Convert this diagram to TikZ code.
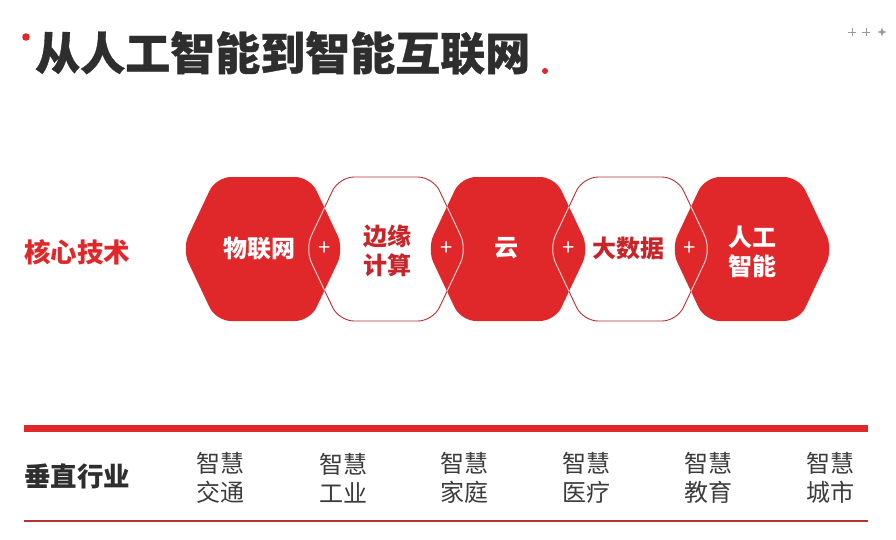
\documentclass[tikz,border=0pt]{standalone}
\usepackage{fontspec}
\setmainfont{Noto Sans CJK SC}
\newfontfamily\heavyfont[FakeBold=0.8]{Noto Sans CJK SC}
\definecolor{hexred}{HTML}{E0282B}
\definecolor{edgered}{HTML}{B43234}
\definecolor{txtred}{HTML}{C8252B}
\definecolor{titlegray}{HTML}{2E2E2E}
\definecolor{indgray}{HTML}{3C3C3C}
\definecolor{lightedge}{HTML}{F6D0D0}
\definecolor{decogray}{HTML}{9A9A9A}
\newcommand{\hexp}[1]{(#1,177) -- (#1+47,177) -- (#1+81,249) -- (#1+47,321) -- (#1-47,321) -- (#1-81,249) -- (#1-47,177) -- cycle}
\tikzset{
  hexshape/.style={rounded corners=15pt},
  hexwhite/.style={font=\fontsize{24}{29}\selectfont\bfseries, text=white, align=center, inner sep=0pt},
  hexdark/.style={font=\fontsize{24}{29}\selectfont\bfseries, text=txtred, align=center, inner sep=0pt},
  plussign/.style={font=\fontsize{22}{22}\selectfont, text=white, inner sep=0pt},
  industry/.style={font=\fontsize{24}{29}\selectfont, text=indgray, align=center, inner sep=0pt},
  rowlabel/.style={font=\fontsize{26.5}{26.5}\selectfont\bfseries, anchor=west, inner sep=0pt}
}
\begin{document}
\begin{tikzpicture}[x=1pt,y=-1pt]
\useasboundingbox[fill=white] (0,0) rectangle (896,539);

% title
\fill[hexred] (26,37) circle (3.8);
\node[anchor=west, inner sep=0pt, font=\fontsize{45}{45}\selectfont\heavyfont\bfseries, text=titlegray] (title) at (35,53) {从人工智能到智能互联网};
\fill[hexred] (545,71) circle (3);

% deco
\draw[decogray, line width=0.8pt] (848,32) -- (856,32) (852,28) -- (852,36)
  (862,32) -- (870,32) (866,28) -- (866,36);
\fill[decogray] (882,27.5) -- (883.2,30.8) -- (886.5,32) -- (883.2,33.2) -- (882,36.5) -- (880.8,33.2) -- (877.5,32) -- (880.8,30.8) -- cycle;

% hexagons
\fill[hexred, hexshape] \hexp{263};
\fill[hexred, hexshape] \hexp{508};
\fill[hexred, hexshape] \hexp{752};
\fill[white, hexshape] \hexp{386};
\fill[white, hexshape] \hexp{630};
% overlaps
\begin{scope}
  \clip[hexshape] \hexp{386};
  \fill[hexred, hexshape] \hexp{263};
  \fill[hexred, hexshape] \hexp{508};
\end{scope}
\begin{scope}
  \clip[hexshape] \hexp{630};
  \fill[hexred, hexshape] \hexp{508};
  \fill[hexred, hexshape] \hexp{752};
\end{scope}
\draw[edgered, line width=0.9pt, hexshape] \hexp{386};
\draw[edgered, line width=0.9pt, hexshape] \hexp{630};
\begin{scope}
  \clip[hexshape] \hexp{263} \hexp{508} \hexp{752};
  \draw[lightedge, line width=1pt, hexshape] \hexp{386};
  \draw[lightedge, line width=1pt, hexshape] \hexp{630};
\end{scope}

\node[rowlabel, text=hexred] (core) at (24,252) {核心技术};

\node[hexwhite] (h1) at (259,249) {物联网};
\node[hexdark] (h2) at (387,251) {边缘\\计算};
\node[hexwhite] (h3) at (506,248) {云};
\node[hexdark] (h4) at (628,248) {大数据};
\node[hexwhite] (h5) at (752,252) {人工\\智能};

\node[plussign] (p1) at (324.5,249) {+};
\node[plussign] (p2) at (447,249) {+};
\node[plussign] (p3) at (569,249) {+};
\node[plussign] (p4) at (690,249) {+};

% industries
\coordinate (barL) at (24,428);
\coordinate (barR) at (868,428);
\draw[hexred, line width=7pt] (barL) -- (barR);
\coordinate (lineL) at (24,521);
\coordinate (lineR) at (868,521);
\draw[edgered, line width=1.2pt] (lineL) -- (lineR);

\node[rowlabel, text=titlegray] (vert) at (24,476) {垂直行业};
\node[industry] (i1) at (220,478) {智慧\\交通};
\node[industry] (i2) at (343,478) {智慧\\工业};
\node[industry] (i3) at (464,478) {智慧\\家庭};
\node[industry] (i4) at (586,478) {智慧\\医疗};
\node[industry] (i5) at (708,478) {智慧\\教育};
\node[industry] (i6) at (830,478) {智慧\\城市};
\end{tikzpicture}
\end{document}
